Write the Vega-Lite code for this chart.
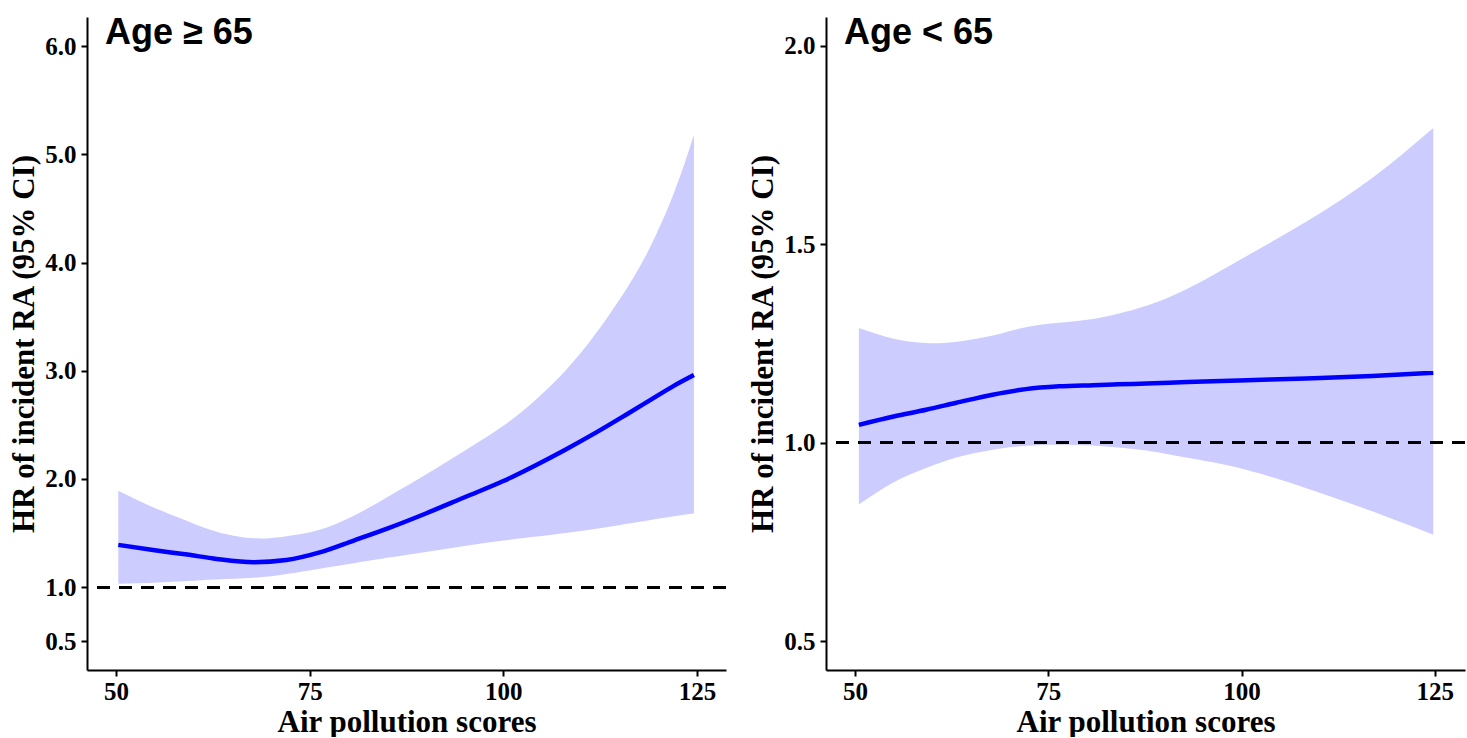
{
  "$schema": "https://vega.github.io/schema/vega-lite/v6.json",
  "background": "white",
  "padding": {"left": 8, "top": 15, "right": 1, "bottom": 0},
  "datasets": {
    "old": [
      {"x": 50.3, "hr": 1.39, "lo": 1.03, "hi": 1.89},
      {"x": 55, "hr": 1.34, "lo": 1.04, "hi": 1.73},
      {"x": 59.2, "hr": 1.30, "lo": 1.055, "hi": 1.61},
      {"x": 63, "hr": 1.26, "lo": 1.07, "hi": 1.51},
      {"x": 67.8, "hr": 1.23, "lo": 1.085, "hi": 1.45},
      {"x": 72, "hr": 1.25, "lo": 1.12, "hi": 1.47},
      {"x": 76.3, "hr": 1.32, "lo": 1.17, "hi": 1.53},
      {"x": 80.7, "hr": 1.43, "lo": 1.22, "hi": 1.66},
      {"x": 85, "hr": 1.54, "lo": 1.27, "hi": 1.83},
      {"x": 90, "hr": 1.68, "lo": 1.325, "hi": 2.04},
      {"x": 95, "hr": 1.83, "lo": 1.38, "hi": 2.26},
      {"x": 100, "hr": 1.98, "lo": 1.43, "hi": 2.49},
      {"x": 104, "hr": 2.12, "lo": 1.465, "hi": 2.72},
      {"x": 108, "hr": 2.27, "lo": 1.50, "hi": 3.0},
      {"x": 112, "hr": 2.43, "lo": 1.54, "hi": 3.35},
      {"x": 116, "hr": 2.60, "lo": 1.585, "hi": 3.77},
      {"x": 119, "hr": 2.73, "lo": 1.62, "hi": 4.15},
      {"x": 122, "hr": 2.86, "lo": 1.655, "hi": 4.64},
      {"x": 124.6, "hr": 2.96, "lo": 1.68, "hi": 5.18}
    ],
    "young": [
      {"x": 50.5, "hr": 1.045, "lo": 0.844, "hi": 1.289},
      {"x": 55, "hr": 1.066, "lo": 0.90, "hi": 1.262},
      {"x": 59.2, "hr": 1.083, "lo": 0.936, "hi": 1.251},
      {"x": 63, "hr": 1.10, "lo": 0.962, "hi": 1.254},
      {"x": 67.8, "hr": 1.121, "lo": 0.982, "hi": 1.270},
      {"x": 72.1, "hr": 1.135, "lo": 0.992, "hi": 1.291},
      {"x": 76.4, "hr": 1.142, "lo": 0.995, "hi": 1.302},
      {"x": 80.8, "hr": 1.145, "lo": 0.993, "hi": 1.312},
      {"x": 84, "hr": 1.147, "lo": 0.988, "hi": 1.325},
      {"x": 87.7, "hr": 1.149, "lo": 0.980, "hi": 1.345},
      {"x": 93, "hr": 1.153, "lo": 0.962, "hi": 1.388},
      {"x": 99.7, "hr": 1.157, "lo": 0.936, "hi": 1.46},
      {"x": 108.3, "hr": 1.162, "lo": 0.886, "hi": 1.556},
      {"x": 116.9, "hr": 1.168, "lo": 0.827, "hi": 1.667},
      {"x": 124.8, "hr": 1.176, "lo": 0.768, "hi": 1.793}
    ]
  },
  "hconcat": [
    {
      "width": 639,
      "height": 653,
      "title": {"text": "Age ≥ 65"},
      "data": {"name": "old"},
      "layer": [
        {
          "mark": {"type": "area", "color": "#ccccff", "interpolate": "natural", "opacity": 1},
          "encoding": {
            "x": {"field": "x", "type": "quantitative", "scale": {"domain": [46.26, 128.74], "nice": false, "zero": false}, "axis": {"values": [50, 75, 100, 125], "title": "Air pollution scores", "labelPadding": 3, "titlePadding": 3}},
            "y": {"field": "lo", "type": "quantitative", "scale": {"domain": [0.233, 6.27], "nice": false, "zero": false}, "axis": {"values": [0.5, 1, 2, 3, 4, 5, 6], "format": ".1f", "title": "HR of incident RA (95% CI)"}},
            "y2": {"field": "hi"}
          }
        },
        {
          "mark": {"type": "line", "color": "#0000ff", "strokeWidth": 4.5, "interpolate": "monotone"},
          "encoding": {
            "x": {"field": "x", "type": "quantitative"},
            "y": {"field": "hr", "type": "quantitative"}
          }
        },
        {
          "mark": {"type": "rule", "color": "black", "strokeWidth": 2.3, "strokeDash": [13, 9]},
          "encoding": {"y": {"datum": 1}}
        }
      ]
    },
    {
      "width": 639,
      "height": 653,
      "title": {"text": "Age < 65"},
      "data": {"name": "young"},
      "layer": [
        {
          "mark": {"type": "area", "color": "#ccccff", "interpolate": "natural", "opacity": 1},
          "encoding": {
            "x": {"field": "x", "type": "quantitative", "scale": {"domain": [46.25, 128.9], "nice": false, "zero": false}, "axis": {"values": [50, 75, 100, 125], "title": "Air pollution scores", "labelPadding": 3, "titlePadding": 3}},
            "y": {"field": "lo", "type": "quantitative", "scale": {"domain": [0.427, 2.073], "nice": false, "zero": false}, "axis": {"values": [0.5, 1, 1.5, 2], "format": ".1f", "title": "HR of incident RA (95% CI)"}},
            "y2": {"field": "hi"}
          }
        },
        {
          "mark": {"type": "line", "color": "#0000ff", "strokeWidth": 4.5, "interpolate": "monotone"},
          "encoding": {
            "x": {"field": "x", "type": "quantitative"},
            "y": {"field": "hr", "type": "quantitative"}
          }
        },
        {
          "mark": {"type": "rule", "color": "black", "strokeWidth": 2.3, "strokeDash": [13, 9]},
          "encoding": {"y": {"datum": 1}}
        }
      ]
    }
  ],
  "resolve": {"scale": {"x": "independent", "y": "independent"}},
  "spacing": 19,
  "config": {
    "view": {"stroke": null},
    "axis": {
      "grid": false,
      "domainColor": "black",
      "domainWidth": 2,
      "tickColor": "black",
      "tickWidth": 2,
      "tickSize": 6,
      "labelFont": "Liberation Serif",
      "labelFontWeight": "bold",
      "labelFontSize": 25,
      "labelColor": "black",
      "labelPadding": 5,
      "titleFont": "Liberation Serif",
      "titleFontWeight": "bold",
      "titleFontSize": 31,
      "titleColor": "black",
      "titlePadding": 4
    },
    "title": {
      "font": "Liberation Sans",
      "fontSize": 36,
      "fontWeight": "bold",
      "color": "black",
      "anchor": "start",
      "frame": "group",
      "orient": "top",
      "offset": -35,
      "baseline": "alphabetic",
      "dx": 18
    }
  }
}
